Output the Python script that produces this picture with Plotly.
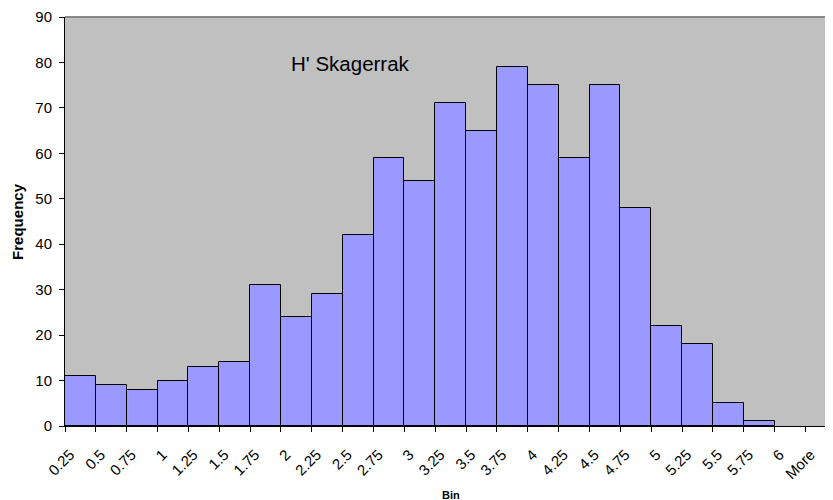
import plotly.graph_objects as go

bins = ["0.25", "0.5", "0.75", "1", "1.25", "1.5", "1.75", "2", "2.25", "2.5",
        "2.75", "3", "3.25", "3.5", "3.75", "4", "4.25", "4.5", "4.75", "5",
        "5.25", "5.5", "5.75", "6", "More"]
frequency = [11, 9, 8, 10, 13, 14, 31, 24, 29, 42, 59, 54, 71, 65, 79, 75,
             59, 75, 48, 22, 18, 5, 1]
y_ticks = [0, 10, 20, 30, 40, 50, 60, 70, 80, 90]

edge_pos = list(range(len(bins)))
bar_pos = [i + 0.5 for i in range(len(frequency))]
x_range = [0, 24.89]
y_range = [0, 90]

font_family = "Liberation Sans, Arial, sans-serif"

fig = go.Figure()
fig.add_trace(go.Bar(
    x=bar_pos, y=frequency, width=1.0,
    marker=dict(color="#9999FF", line=dict(color="#000000", width=1)),
    showlegend=False, hoverinfo="y",
))

common = dict(showgrid=False, zeroline=False, automargin=False,
              tickcolor="#000000", tickwidth=1)

# The page body adds an 8px offset, so the figure is 8px smaller than the window
fig.update_layout(
    width=825, height=492,
    margin=dict(l=57, r=0, t=9, b=74),
    paper_bgcolor="white",
    plot_bgcolor="#C0C0C0",
    font=dict(family=font_family, color="#000000"),
    bargap=0,
    xaxis=dict(
        range=x_range,
        tickmode="array", tickvals=edge_pos, ticktext=bins,
        tickangle=-45, tickfont=dict(size=15),
        ticks="outside", ticklen=5,
        ticklabelshift=5, ticklabelstandoff=8,
        showline=True, linecolor="#000000", linewidth=1,
        **common,
    ),
    yaxis=dict(
        range=y_range,
        tickmode="array", tickvals=y_ticks,
        tickfont=dict(size=15),
        ticks="outside", ticklen=5,
        ticklabelstandoff=4,
        showline=True, linecolor="#000000", linewidth=1,
        **common,
    ),
    xaxis2=dict(
        range=x_range, overlaying="x", anchor="y2",
        tickmode="array", tickvals=edge_pos, showticklabels=False,
        ticks="inside", ticklen=4, showline=False,
        **common,
    ),
    yaxis2=dict(
        range=y_range, overlaying="y", anchor="x2",
        tickmode="array", tickvals=y_ticks, showticklabels=False,
        ticks="inside", ticklen=4, showline=False,
        **common,
    ),
    shapes=[dict(type="line", xref="paper", yref="paper", x0=0, x1=1, y0=1, y1=1,
                 line=dict(color="#888888", width=2))],
    annotations=[
        dict(text="H' Skagerrak", xref="paper", yref="paper",
             x=0.372, y=0.8875, xanchor="center", yanchor="middle",
             showarrow=False, font=dict(size=20.5, family=font_family)),
        dict(text="<b>Frequency</b>", xref="paper", yref="paper",
             x=-0.062, y=0.5, xanchor="center", yanchor="middle",
             textangle=-90, showarrow=False,
             font=dict(size=15, family=font_family)),
        dict(text="<b>Bin</b>", xref="paper", yref="paper",
             x=0.5026, y=-0.169, xanchor="center", yanchor="middle",
             showarrow=False, font=dict(size=11, family=font_family)),
    ],
)

fig.write_html("out.html")
